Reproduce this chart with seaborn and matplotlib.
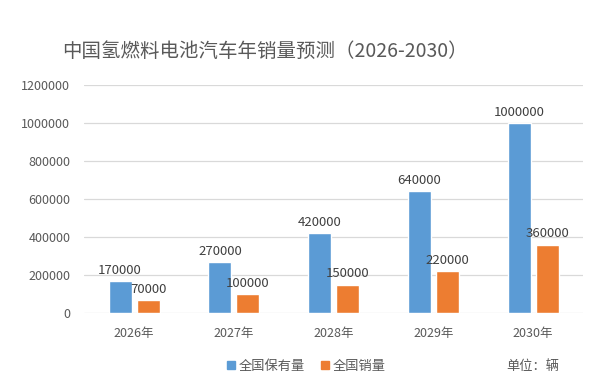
import matplotlib.pyplot as plt
import matplotlib.patches as mpatches
import pandas as pd
import seaborn as sns

# data
years = ["2026年", "2027年", "2028年", "2029年", "2030年"]
stock = [170000, 270000, 420000, 640000, 1000000]   # 全国保有量
sales = [70000, 100000, 150000, 220000, 360000]     # 全国销量
series_names = ["全国保有量", "全国销量"]
colors = ["#5B9BD5", "#ED7D31"]

df = pd.DataFrame({
    "year": years * 2,
    "value": stock + sales,
    "series": [series_names[0]] * len(years) + [series_names[1]] * len(years),
})

sns.set_style("white")
plt.rcParams['font.family'] = ['Noto Sans CJK SC', 'DejaVu Sans']

fig = plt.figure(figsize=(5.89, 3.92), dpi=100)
ax = fig.add_axes([0.143, 0.2015, 0.847, 0.5815])

sns.barplot(data=df, x="year", y="value", hue="series", palette=colors,
            width=0.56, gap=0.18, saturation=1, legend=False, ax=ax)

for cont in ax.containers:
    ax.bar_label(cont, fmt="%d", padding=3, fontsize=9.5, color="#404040")

ax.set_ylim(0, 1200000)
ax.set_yticks(range(0, 1200001, 200000))
ax.set_yticklabels([str(v) for v in range(0, 1200001, 200000)])
ax.set_xlim(-0.5, 4.5)
ax.yaxis.grid(True, color="#D9D9D9", linewidth=0.9)
ax.set_axisbelow(True)
for s in ["top", "right", "left", "bottom"]:
    ax.spines[s].set_visible(False)
ax.tick_params(axis="both", length=0, labelsize=9, colors="#595959")
ax.tick_params(axis="y", pad=10)
ax.tick_params(axis="x", pad=10)
ax.set_xlabel("")
ax.set_ylabel("")

fig.text(0.45, 0.868, "中国氢燃料电池汽车年销量预测（2026-2030）",
         ha="center", va="center", fontsize=14, color="#595959")

handles = [mpatches.Patch(color=c, label=n) for c, n in zip(colors, series_names)]
fig.legend(handles=handles, loc="center", bbox_to_anchor=(0.52, 0.066), ncol=2,
           frameon=False, fontsize=9.5, handlelength=0.6, handleheight=0.6,
           handletextpad=0.3, columnspacing=1.2, labelcolor="#595959")
fig.text(0.905, 0.066, "单位：辆", ha="center", va="center", fontsize=9.5, color="#595959")

fig.savefig("out.png", dpi=100)
